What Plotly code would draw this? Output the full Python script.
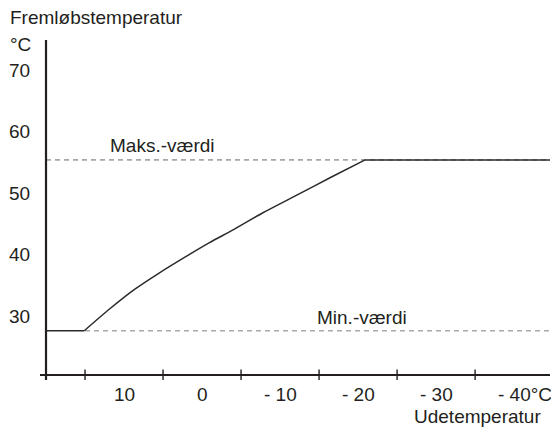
import plotly.graph_objects as go

# Heating curve: flow temperature vs. outdoor temperature
outdoor_temp = [20, 15.1, 11.9, 8.7, 5.5, 2.3, -0.9, -4.1, -7.8, -12.2, -16.4, -20.9, -44.6]
flow_temp = [27.6, 27.6, 31.1, 34.3, 37.0, 39.5, 41.9, 44.1, 46.8, 49.7, 52.5, 55.4, 55.4]

max_value = 55.4
min_value = 27.6

y_tick_values = [70, 60, 50, 40, 30]
y_tick_labels = ["70", "60", "50", "40", "30"]

x_tick_marks = [15, 5, -5, -15, -25, -35]
x_tick_values = [10, 0, -10, -20, -30]
x_tick_labels = ["10", "0", "- 10", "- 20", "- 30"]

X_LEFT, X_RIGHT = 20.77, -44.6
Y_BOTTOM, Y_TOP = 19.6, 74.9
AXIS_X, AXIS_Y = 20.0, 20.4

FONT = "Liberation Sans, Arial, sans-serif"
TXT = "#231f20"
CURVE = "#2b2b2b"
FS = 19


def ypaper(v):
    """Paper coordinate for a y value, valid outside the axis range too."""
    return (v - Y_BOTTOM) / (Y_TOP - Y_BOTTOM)


def xpaper(v):
    return (v - X_LEFT) / (X_RIGHT - X_LEFT)


fig = go.Figure()

# reference lines (max / min)
fig.add_trace(go.Scatter(
    x=[AXIS_X, X_RIGHT], y=[max_value, max_value], mode="lines",
    line=dict(color="#a8a8a8", width=1.6, dash="5px,4px"), hoverinfo="skip"))
fig.add_trace(go.Scatter(
    x=[15, X_RIGHT], y=[min_value, min_value], mode="lines",
    line=dict(color="#a8a8a8", width=1.6, dash="5px,4px"), hoverinfo="skip"))

# heating curve: flat limits plus a smooth rising part between the kinks
fig.add_trace(go.Scatter(
    x=outdoor_temp[:2], y=flow_temp[:2], mode="lines",
    line=dict(color=CURVE, width=1.5), hoverinfo="skip"))
fig.add_trace(go.Scatter(
    x=outdoor_temp[1:-1], y=flow_temp[1:-1], mode="lines",
    line=dict(color=CURVE, width=1.5, shape="spline", smoothing=0.8),
    hoverinfo="skip"))
fig.add_trace(go.Scatter(
    x=outdoor_temp[-2:], y=flow_temp[-2:], mode="lines",
    line=dict(color=CURVE, width=1.5), hoverinfo="skip"))

# axis lines
fig.add_trace(go.Scatter(
    x=[AXIS_X, AXIS_X], y=[Y_BOTTOM, Y_TOP], mode="lines",
    line=dict(color=TXT, width=2.2), hoverinfo="skip"))
fig.add_trace(go.Scatter(
    x=[X_LEFT, X_RIGHT], y=[AXIS_Y, AXIS_Y], mode="lines",
    line=dict(color=TXT, width=2), hoverinfo="skip"))

# tick marks crossing the x axis
fig.add_trace(go.Scatter(
    x=x_tick_marks, y=[AXIS_Y] * len(x_tick_marks), mode="markers",
    marker=dict(symbol="line-ns-open", size=8, color=TXT,
                line=dict(color=TXT, width=1.4)),
    hoverinfo="skip"))


def label(text, x, y, xanchor, xshift=0, xref="paper"):
    return dict(xref=xref, x=x, xanchor=xanchor, xshift=xshift,
                yref="paper", y=ypaper(y), yanchor="middle", text=text,
                showarrow=False, font=dict(size=FS, color=TXT, family=FONT))


annotations = []
for v, t in zip(y_tick_values, y_tick_labels):
    annotations.append(label(t, 0, v, "right", xshift=-8))
annotations.append(label("°C", 0, 74.2, "right", xshift=-7))
annotations.append(label("Fremløbstemperatur", 0, 78.5, "left", xshift=-32))
for v, t in zip(x_tick_values, x_tick_labels):
    annotations.append(label(t, xpaper(v), 17.3, "center"))
annotations.append(label("- 40°C", xpaper(-40), 17.3, "left", xshift=-18))
annotations.append(label("Udetemperatur", xpaper(-43.7), 13.7, "right"))
annotations.append(label("Maks.-værdi", xpaper(12.05), 57.8, "left"))
annotations.append(label("Min.-værdi", xpaper(-14.5), 29.8, "left"))

fig.update_layout(
    width=551, height=427,
    margin=dict(l=40, r=1, t=40, b=47),
    paper_bgcolor="white", plot_bgcolor="white",
    showlegend=False,
    xaxis=dict(range=[X_LEFT, X_RIGHT], visible=False, fixedrange=True),
    yaxis=dict(range=[Y_BOTTOM, Y_TOP], visible=False, fixedrange=True),
    annotations=annotations,
)

fig.write_html("out.html")
